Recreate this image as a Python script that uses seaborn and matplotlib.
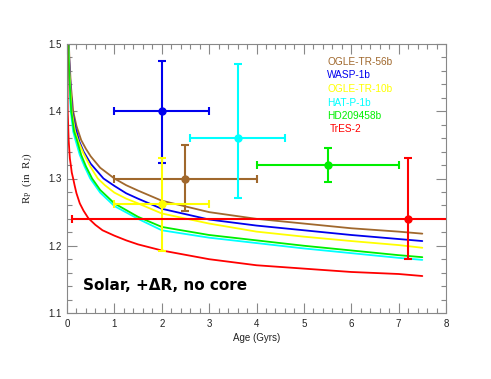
import matplotlib
matplotlib.use("Agg")
import matplotlib.pyplot as plt
import seaborn as sns
import pandas as pd
from matplotlib.ticker import MultipleLocator

sns.set_style("ticks")
plt.rcParams['font.family'] = ['Liberation Sans', 'DejaVu Sans']

# ---- data ----
planets = ["OGLE-TR-56b", "WASP-1b", "OGLE-TR-10b", "HAT-P-1b", "HD209458b", "TrES-2"]
colors = ["#A0682D", "#0000EE", "#FFFF00", "#00FFFF", "#00EE00", "#FF0000"]

# model curves (age in Gyr, radius in R_J)
brown_t = [0.03, 0.05, 0.08, 0.13, 0.2, 0.3, 0.4, 0.5, 0.7, 1.0, 1.25, 1.5, 2.0, 3.0, 4.0, 5.0, 6.0, 7.0, 7.5]
brown_r = [1.52, 1.48, 1.44, 1.40, 1.378, 1.357, 1.344, 1.333, 1.316, 1.300, 1.290, 1.282, 1.267, 1.250, 1.240, 1.233, 1.226, 1.221, 1.218]
blue_t = [0.03, 0.05, 0.08, 0.11, 0.18, 0.26, 0.35, 0.5, 0.77, 1.0, 1.25, 1.5, 2.0, 3.0, 4.0, 5.0, 6.0, 7.0, 7.5]
blue_r = [1.51, 1.47, 1.43, 1.40, 1.375, 1.355, 1.340, 1.322, 1.300, 1.289, 1.278, 1.270, 1.255, 1.239, 1.230, 1.223, 1.216, 1.210, 1.207]
yellow_t = [0.02, 0.05, 0.1, 0.17, 0.24, 0.35, 0.49, 0.65, 0.8, 1.0, 1.25, 1.5, 2.0, 3.0, 4.0, 5.0, 6.0, 7.0, 7.5]
yellow_r = [1.52, 1.46, 1.40, 1.37, 1.355, 1.337, 1.318, 1.300, 1.290, 1.279, 1.270, 1.263, 1.248, 1.233, 1.221, 1.2135, 1.207, 1.201, 1.197]
cyan_t = [0.02, 0.05, 0.08, 0.13, 0.18, 0.27, 0.37, 0.49, 0.7, 1.0, 1.5, 2.0, 3.0, 4.0, 5.0, 6.0, 7.0, 7.5]
cyan_r = [1.51, 1.44, 1.40, 1.37, 1.357, 1.335, 1.318, 1.300, 1.279, 1.259, 1.240, 1.223, 1.212, 1.204, 1.196, 1.189, 1.182, 1.179]
green_t = [0.02, 0.05, 0.09, 0.15, 0.21, 0.3, 0.4, 0.53, 0.7, 1.0, 1.5, 2.0, 3.0, 4.0, 5.0, 6.0, 7.0, 7.5]
green_r = [1.51, 1.45, 1.40, 1.37, 1.357, 1.335, 1.318, 1.300, 1.283, 1.263, 1.243, 1.228, 1.216, 1.208, 1.200, 1.193, 1.186, 1.183]
red_t = [0.005, 0.015, 0.035, 0.06, 0.084, 0.1, 0.13, 0.16, 0.2, 0.27, 0.35, 0.45, 0.6, 0.75, 1.0, 1.25, 1.5, 2.0, 3.0, 4.0, 5.0, 6.0, 7.0, 7.5]
red_r = [1.52, 1.40, 1.357, 1.33, 1.318, 1.309, 1.300, 1.290, 1.278, 1.263, 1.252, 1.241, 1.231, 1.223, 1.215, 1.208, 1.202, 1.193, 1.180, 1.171, 1.166, 1.161, 1.158, 1.155]

# observed planets: age, age error (lo, hi), radius, radius error (lo, hi)
obs_age = [2.5, 2.0, 2.0, 3.6, 5.5, 7.2]
obs_age_lo = [1.5, 1.0, 1.0, 1.0, 1.5, 7.1]
obs_age_hi = [1.5, 1.0, 1.0, 1.0, 1.5, 7.1]
obs_rad = [1.30, 1.40, 1.262, 1.36, 1.32, 1.24]
obs_rad_lo = [0.048, 0.077, 0.070, 0.089, 0.025, 0.059]
obs_rad_hi = [0.050, 0.075, 0.068, 0.110, 0.025, 0.090]

curve_t = [brown_t, blue_t, yellow_t, cyan_t, green_t, red_t]
curve_r = [brown_r, blue_r, yellow_r, cyan_r, green_r, red_r]

rows = []
for name, ts, rs in zip(planets, curve_t, curve_r):
    for t, r in zip(ts, rs):
        rows.append({"planet": name, "age": t, "radius": r})
df = pd.DataFrame(rows)

fig = plt.figure(figsize=(4.91, 3.79), dpi=100)
ax = fig.add_axes([67/491, 1-313/379, (446-67)/491, (313-44)/379])

sns.lineplot(data=df, x="age", y="radius", hue="planet", hue_order=planets,
             palette=colors, estimator=None, sort=False, lw=1.3, legend=False, ax=ax)

for i in range(len(planets)):
    ax.errorbar(obs_age[i], obs_rad[i],
                xerr=[[obs_age_lo[i]], [obs_age_hi[i]]],
                yerr=[[obs_rad_lo[i]], [obs_rad_hi[i]]],
                fmt='o', color=colors[i], ms=5, lw=1.5, capsize=3, capthick=1.5,
                zorder=3)

ax.set_xlim(0, 8)
ax.set_ylim(1.1, 1.5)
ax.xaxis.set_major_locator(MultipleLocator(1))
ax.xaxis.set_minor_locator(MultipleLocator(0.2))
ax.yaxis.set_major_locator(MultipleLocator(0.1))
ax.yaxis.set_minor_locator(MultipleLocator(0.02))
ax.tick_params(which='both', direction='in', top=True, right=True,
               color='#888888', labelsize=7, labelcolor='#222222')
ax.tick_params(which='major', length=7, width=0.8, pad=4)
ax.tick_params(which='minor', length=3.5, width=0.8)
for s in ax.spines.values():
    s.set_color('#888888')
    s.set_linewidth(0.8)

ax.set_xlabel("Age (Gyrs)", fontsize=7, color='#222222', labelpad=3)
ax.set_ylabel(r"R$_\mathregular{P}$  (in  R$_\mathregular{J}$)", fontsize=8,
              family='Liberation Serif', color='#222222', labelpad=10)

ax.text(0.042, 0.104, "Solar, +\u0394R, no core", transform=ax.transAxes,
        fontsize=11, fontweight='bold', family='DejaVu Sans', va='center', ha='left',
        color='black')

leg_y = [62, 75.5, 89, 102.5, 116, 129.5]
leg_x = [327, 327, 327, 327, 327, 330]
for name, c, yy, xx in zip(planets, colors, leg_y, leg_x):
    fig.text(xx/491, 1-yy/379, name, color=c, fontsize=7.3, va='center', ha='left')

fig.savefig("out.png", dpi=100)
